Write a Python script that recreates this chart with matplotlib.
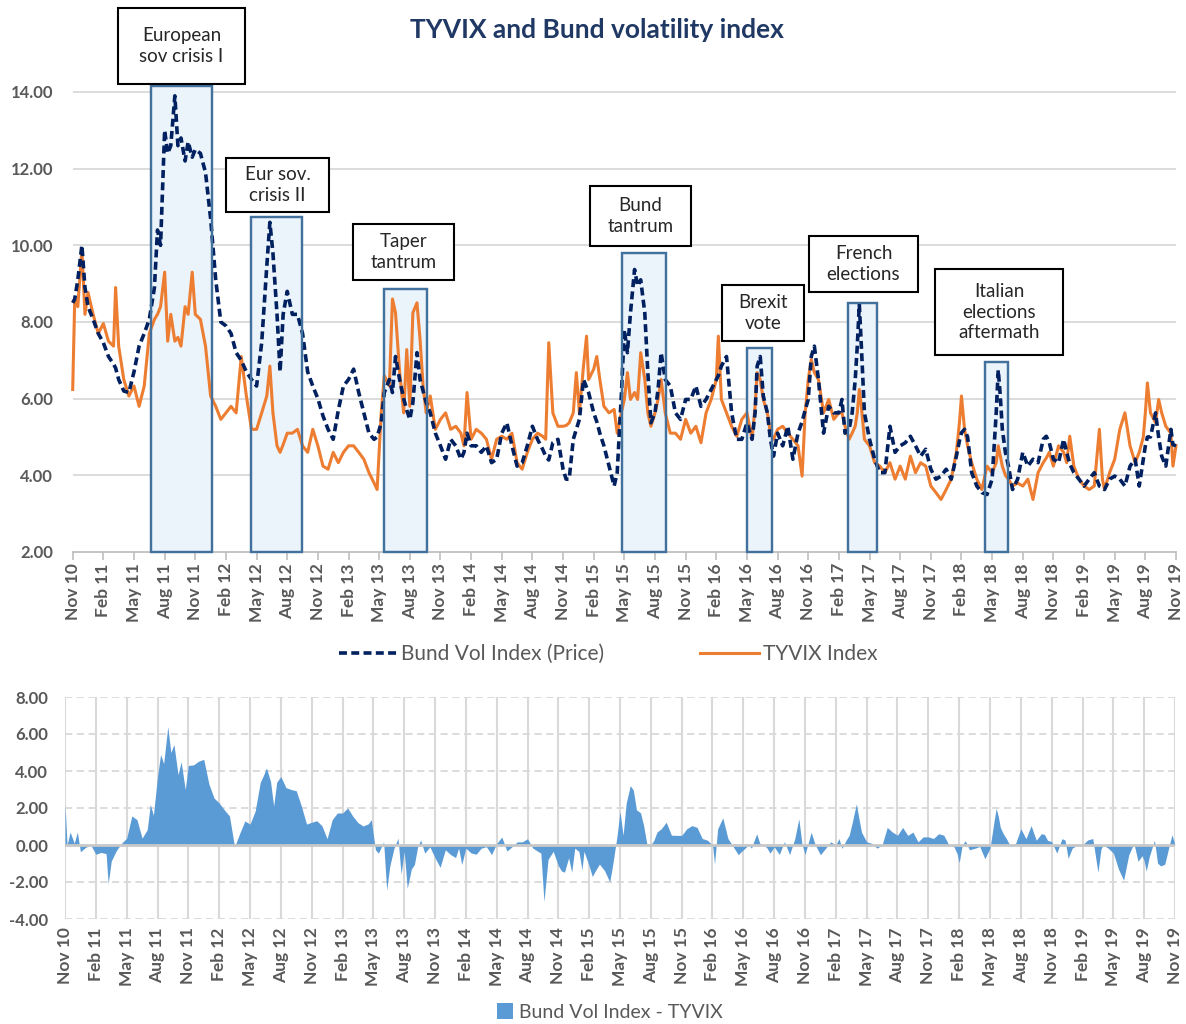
import matplotlib
matplotlib.use("Agg")
import matplotlib.pyplot as plt
from matplotlib.patches import Rectangle, Patch
from matplotlib.lines import Line2D
import numpy as np

plt.rcParams['font.family'] = ['Lato', 'DejaVu Sans']

# ---------------- data (months since Nov 2010) ----------------
months = [0, 0.2, 0.5, 0.9, 1.2, 1.5, 2, 2.5, 3, 3.5, 4, 4.2, 4.5, 5, 5.5, 6, 6.5, 7, 7.5, 8,
          8.3, 8.6, 9, 9.3, 9.6, 10, 10.3, 10.6, 11, 11.3, 11.7, 12, 12.5, 13, 13.5, 14, 14.5,
          15, 15.5, 16, 16.5, 17, 17.5, 18, 18.5, 19, 19.3, 19.6, 20, 20.3, 20.6, 21, 21.5,
          22, 22.5, 23, 23.5, 24, 24.5, 25, 25.5, 26, 26.5,
          27, 27.5, 28, 28.5, 29, 29.5, 29.8, 30.2, 30.5, 31, 31.3, 31.6, 32, 32.4, 32.7, 33,
          33.3, 33.7, 34, 34.3, 34.6, 35, 35.5, 36, 36.5, 37, 37.5, 38, 38.3, 38.6, 39, 39.5,
          40, 40.5, 41, 41.5, 42, 42.5, 43, 43.5, 44, 44.5, 45, 45.5, 46, 46.3, 46.6, 47,
          47.5, 48, 48.3, 48.6, 49, 49.3, 49.6, 50, 50.3, 50.5, 51, 51.3, 51.6, 52, 52.5, 53,
          53.3, 53.7,
          54, 54.3, 54.6, 55, 55.3, 55.6, 56, 56.3, 56.6, 57, 57.3, 57.6, 58, 58.5, 59, 59.5,
          60, 60.5, 61, 61.5, 62, 62.5, 63, 63.2, 63.5, 64, 64.5, 65, 65.5, 66, 66.5, 66.8,
          67, 67.3, 67.6, 68, 68.3, 68.6, 69, 69.5, 70, 70.5, 71, 71.4, 71.7, 72, 72.3, 72.6,
          73, 73.5, 74, 74.5, 75, 75.3, 75.6, 76, 76.3, 76.6, 76.8, 77, 77.2, 77.5, 78, 78.5,
          79, 79.5, 80, 80.5,
          81, 81.5, 82, 82.5, 83, 83.5, 84, 84.5, 85, 85.5, 86, 86.5, 86.8, 87, 87.3, 87.6,
          88, 88.5, 89, 89.5, 90, 90.2, 90.4, 90.6, 90.8, 91, 91.3, 91.6, 92, 92.5, 93, 93.5,
          94, 94.5, 95, 95.3, 95.6, 96, 96.5, 97, 97.3, 97.6, 98, 98.5, 99, 99.5, 100, 100.5,
          100.8, 101, 101.5, 102, 102.5, 103, 103.5, 104, 104.4, 104.8, 105, 105.2, 105.5,
          106, 106.3, 106.6, 107, 107.5, 107.7, 108]

bund = [8.5, 8.6, 9.1, 10.0, 8.9, 8.4, 8.07, 7.7, 7.46, 7.1, 6.9, 6.8, 6.5, 6.2, 6.16, 6.7, 7.37,
        7.7, 8.07, 8.9, 10.4, 10.0, 13.0, 12.4, 12.6, 13.9, 12.6, 12.8, 12.2, 12.7, 12.3, 12.5,
        12.4, 11.9, 10.7, 9.1, 8.0, 7.9, 7.7, 7.2, 7.0, 6.7, 6.5, 6.33, 7.46, 9.46, 10.6, 9.8,
        8.2, 6.7, 8.2, 8.8, 8.2, 8.2, 7.7, 6.7, 6.33, 6.0, 5.55, 5.2, 4.94, 5.7, 6.33,
        6.5, 6.77, 6.16, 5.63, 5.1, 4.94, 5.0, 5.37, 6.16, 6.5, 6.16, 7.1, 6.5, 6.0, 5.7, 5.46,
        5.9, 7.2, 6.5, 6.2, 5.9, 5.63, 5.1, 4.77, 4.42, 4.94, 4.77, 4.42, 4.6, 5.1, 4.77, 4.77,
        4.6, 4.77, 4.33, 4.42, 5.1, 5.37, 4.77, 4.24, 4.33, 4.77, 5.28, 4.94, 4.68, 4.5, 4.4,
        4.85, 4.94, 4.16, 3.9, 3.9, 4.94, 5.2, 5.46, 6.5, 6.3, 6.16, 5.63, 5.4, 5.1, 4.77,
        4.24, 3.72, 4.07, 6.07,
        7.8, 7.2, 8.24, 9.37, 8.94, 9.1, 8.24, 6.68, 5.37, 5.63, 6.24, 7.2, 6.5, 6.33, 5.63,
        5.46, 5.98, 5.98, 6.33, 5.8, 5.98, 6.24, 6.5, 6.6, 6.85, 7.1, 5.63, 4.94, 4.94, 5.37,
        4.94, 5.63, 6.85, 7.1, 6.07, 5.63, 4.94, 4.5, 5.1, 4.77, 5.28, 4.42, 5.1, 5.4, 5.7,
        5.98, 7.1, 7.37, 6.5, 5.1, 5.8, 5.63, 5.63, 5.98, 5.1, 5.2, 5.63, 6.5, 7.37, 8.46,
        7.37, 5.63, 4.94, 4.42, 4.07, 4.07, 5.28, 4.6,
        4.77, 4.85, 5.02, 4.77, 4.5, 4.68, 4.16, 3.9, 3.98, 4.16, 3.9, 4.5, 4.9, 5.11, 5.2,
        5.0, 4.07, 3.72, 3.55, 3.5, 3.9, 4.77, 5.63, 6.75, 6.07, 5.2, 4.6, 4.24, 3.63, 3.9,
        4.6, 4.24, 4.42, 4.33, 4.94, 5.02, 4.85, 4.42, 4.33, 4.94, 4.6, 4.3, 4.07, 3.9, 3.72,
        3.9, 4.07, 3.72, 3.68, 3.63, 3.9, 3.98, 3.9, 3.72, 4.24, 4.42, 3.72, 4.42, 4.77, 5.0,
        5.0, 5.63, 5.0, 4.5, 4.24, 5.2, 4.8, 4.77]

tyvix = [6.24, 8.6, 8.4, 9.9, 8.2, 8.77, 8.2, 7.7, 7.96, 7.5, 7.37, 8.9, 7.37, 6.5, 6.07, 6.33,
         5.8, 6.33, 7.7, 8.07, 8.2, 8.4, 9.3, 7.5, 8.2, 7.5, 7.6, 7.37, 8.4, 8.2, 9.3, 8.2,
         8.07, 7.37, 6.07, 5.8, 5.46, 5.63, 5.8, 5.63, 7.1, 6.07, 5.2, 5.2, 5.63, 6.07, 6.85,
         5.63, 4.77, 4.6, 4.8, 5.1, 5.1, 5.2, 4.77, 4.6, 5.2, 4.77, 4.24, 4.16, 4.6, 4.33, 4.6,
         4.77, 4.77, 4.6, 4.42, 4.07, 3.8, 3.63, 5.63, 6.6, 6.33, 8.6, 8.24, 6.7, 5.63, 7.28,
         5.8, 8.24, 8.5, 7.55, 6.33, 5.63, 6.07, 5.2, 5.46, 5.63, 5.2, 5.28, 5.1, 4.77, 6.16,
         4.94, 5.2, 5.1, 4.94, 4.42, 4.94, 5.02, 4.94, 5.1, 4.33, 4.16, 4.6, 4.94, 5.1, 5.02,
         4.94, 7.46, 5.63, 5.28, 5.28, 5.3, 5.37, 5.63, 6.68, 5.63, 6.85, 7.63, 6.5, 6.77,
         7.1, 6.5, 5.8, 5.63, 5.72, 5.1, 5.63,
         5.98, 6.68, 5.98, 6.16, 5.98, 7.2, 6.5, 5.63, 5.28, 5.63, 5.98, 6.5, 5.63, 5.1, 5.1,
         4.94, 5.46, 5.1, 5.28, 4.85, 5.63, 5.98, 6.5, 7.63, 5.98, 5.63, 5.28, 5.02, 5.46,
         5.63, 4.94, 5.8, 6.68, 6.5, 5.98, 5.63, 5.1, 4.94, 5.2, 5.28, 5.1, 4.94, 4.77, 3.98,
         5.63, 6.5, 7.02, 6.68, 6.5, 5.63, 5.98, 5.46, 5.63, 5.63, 5.28, 4.94, 5.1, 5.28, 5.63,
         6.24, 5.8, 4.94, 4.77, 4.33, 4.24, 4.07, 4.33, 3.9,
         4.24, 3.9, 4.5, 4.07, 4.33, 4.24, 3.72, 3.55, 3.37, 3.63, 3.9, 4.6, 5.37, 6.07, 5.2,
         4.77, 4.33, 3.9, 3.63, 4.24, 4.07, 4.2, 4.33, 4.77, 4.5, 4.24, 4.0, 3.9, 3.72, 3.8,
         3.72, 3.9, 3.37, 4.07, 4.33, 4.45, 4.6, 4.24, 4.77, 4.6, 4.33, 5.02, 4.24, 3.9, 3.72,
         3.63, 3.72, 5.2, 3.9, 3.63, 4.07, 4.42, 5.2, 5.63, 4.77, 4.33, 4.6, 5.0, 5.63, 6.41,
         5.63, 5.37, 5.98, 5.63, 5.28, 5.1, 4.24, 4.77]

tick_labels = ['Nov 10', 'Feb 11', 'May 11', 'Aug 11', 'Nov 11', 'Feb 12', 'May 12', 'Aug 12',
               'Nov 12', 'Feb 13', 'May 13', 'Aug 13', 'Nov 13', 'Feb 14', 'May 14', 'Aug 14',
               'Nov 14', 'Feb 15', 'May 15', 'Aug 15', 'Nov 15', 'Feb 16', 'May 16', 'Aug 16',
               'Nov 16', 'Feb 17', 'May 17', 'Aug 17', 'Nov 17', 'Feb 18', 'May 18', 'Aug 18',
               'Nov 18', 'Feb 19', 'May 19', 'Aug 19', 'Nov 19']

# event windows: (start month, end month, box top value)
event_start = [7.63, 17.45, 30.46, 53.8, 66.0, 75.9, 89.3]
event_end = [13.6, 22.47, 34.7, 58.05, 68.5, 78.7, 91.55]
event_top = [14.16, 10.73, 8.85, 9.79, 7.31, 8.49, 6.95]
event_labels = ['European\nsov crisis I', 'Eur sov.\ncrisis II', 'Taper\ntantrum',
                'Bund\ntantrum', 'Brexit\nvote', 'French\nelections',
                'Italian\nelections\naftermath']

# ---------------- layout helpers ----------------
W, H = 1186, 1024
def fx(px):
    return px / W
def fy(py):
    return 1 - py / H

GRAY_TXT = '#595959'
GRID = '#D9D9D9'
NAVY = '#002060'
ORANGE = '#ED7D31'
BLUE = '#5B9BD5'

m = np.array(months)
b = np.array(bund)
t = np.array(tyvix)
diff = b - t
tick_pos = np.arange(0, 109, 3)

fig = plt.figure(figsize=(W / 100, H / 100), dpi=100)

# ---------------- top panel ----------------
ax1 = fig.add_axes([fx(72.7), fy(552), fx(1176) - fx(72.7), fy(80.5) - fy(552)])
ax1.set_xlim(0, 108)
ax1.set_ylim(2, 14.3)
ax1.set_yticks(np.arange(2, 14.1, 2))
ax1.set_yticklabels([f'{v:.2f}' for v in np.arange(2, 14.1, 2)])
for v in np.arange(4, 14.1, 2):
    ax1.axhline(v, color=GRID, lw=1.3, zorder=0)
for s in ['top', 'right', 'left']:
    ax1.spines[s].set_visible(False)
ax1.spines['bottom'].set_color('#BFBFBF')
ax1.spines['bottom'].set_linewidth(1.3)
ax1.set_xticks(tick_pos)
ax1.set_xticklabels(tick_labels, rotation=90, fontsize=12.5, fontweight='bold', color=GRAY_TXT)
ax1.tick_params(axis='x', length=6, width=1.2, color='#BFBFBF', pad=2)
ax1.tick_params(axis='y', length=0, pad=14, labelsize=12, labelcolor=GRAY_TXT)
for lab in ax1.get_yticklabels():
    lab.set_fontweight('bold')

for s0, s1, top in zip(event_start, event_end, event_top):
    ax1.add_patch(Rectangle((s0, 2), s1 - s0, top - 2, facecolor='#EBF3FB',
                            edgecolor='#41719C', lw=1.6, zorder=1, clip_on=False))

ax1.plot(m, b, color=NAVY, lw=2.6, ls=(0, (2.2, 1.2)), zorder=3, clip_on=False)
ax1.plot(m, t, color=ORANGE, lw=2.2, zorder=2, clip_on=False)

for s0, s1, top in zip(event_start, event_end, event_top):
    ax1.add_patch(Rectangle((s0, 2), s1 - s0, top - 2, facecolor='none',
                            edgecolor='#41719C', lw=1.6, zorder=4, clip_on=False))

# annotation label boxes (pixel layout)
label_boxes = [(118, 8, 245, 84), (226, 158, 329, 212), (353, 224, 454, 280),
               (590, 186, 691, 246), (722, 285, 804, 341), (809, 236, 918, 292),
               (935, 269, 1063, 355)]
for (x0, y0, x1, y1), txt in zip(label_boxes, event_labels):
    fig.add_artist(Rectangle((fx(x0), fy(y1)), fx(x1) - fx(x0), fy(y0) - fy(y1),
                             transform=fig.transFigure, facecolor='white',
                             edgecolor='black', lw=1.5, zorder=10))
    fig.text(fx((x0 + x1) / 2), fy((y0 + y1) / 2), txt, ha='center', va='center',
             fontsize=13.5, color='#262626', linespacing=1.25, zorder=11)

fig.text(fx(597), fy(30), 'TYVIX and Bund volatility index', ha='center', va='center',
         fontsize=19, fontweight='bold', color='#1F3864')

h1 = [Line2D([], [], color=NAVY, lw=2.6, ls=(0, (2.2, 1.2))),
      Line2D([], [], color=ORANGE, lw=2.2)]
fig.legend(h1, ['Bund Vol Index (Price)', 'TYVIX Index'], loc='center',
           bbox_to_anchor=(fx(608), fy(654)), ncol=2, frameon=False, fontsize=15,
           labelcolor=GRAY_TXT, handlelength=2.8, handletextpad=0.2, columnspacing=4.6)

# ---------------- bottom panel ----------------
ax2 = fig.add_axes([fx(65), fy(919), fx(1175) - fx(65), fy(697) - fy(919)])
ax2.set_xlim(0, 108)
ax2.set_ylim(-4, 8)
yt = np.arange(-4, 8.1, 2)
ax2.set_yticks(yt)
ax2.set_yticklabels([f'{v:.2f}' for v in yt])
for v in yt:
    if v != 0:
        ax2.axhline(v, color=GRID, lw=1.3, ls=(0, (4, 2.5)), zorder=0)
for xv in tick_pos:
    ax2.axvline(xv, color=GRID, lw=1.5, zorder=0)
for s in ax2.spines.values():
    s.set_visible(False)
ax2.fill_between(m, diff, 0, color=BLUE, lw=0, zorder=2)
ax2.axhline(0, color='#C8C8C8', lw=2, zorder=3)
ax2.set_xticks(tick_pos)
ax2.set_xticklabels(tick_labels, rotation=90, fontsize=12.5, fontweight='bold', color=GRAY_TXT)
ax2.tick_params(axis='x', length=0, pad=6)
ax2.tick_params(axis='y', length=0, pad=12, labelsize=12, labelcolor=GRAY_TXT)
for lab in ax2.get_yticklabels():
    lab.set_fontweight('bold')

fig.legend([Patch(facecolor=BLUE, edgecolor='none')], ['Bund Vol Index - TYVIX'],
           loc='center', bbox_to_anchor=(fx(610), fy(1012)), frameon=False, fontsize=14,
           labelcolor=GRAY_TXT, handlelength=0.8, handleheight=0.9, handletextpad=0.3)

fig.savefig('out.png', dpi=100)
